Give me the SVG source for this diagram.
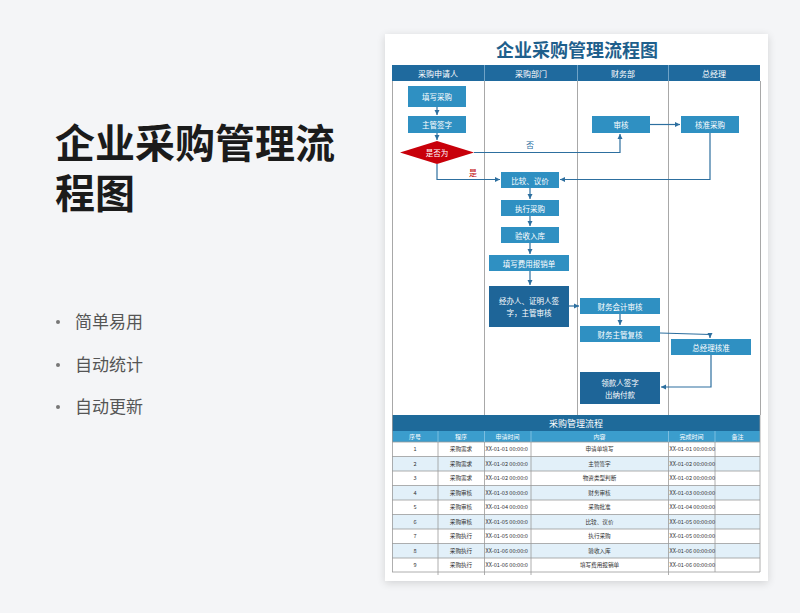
<svg xmlns="http://www.w3.org/2000/svg" width="800" height="613" viewBox="0 0 800 613">
<defs>
<style>
.cjk{font-family:"Noto Sans CJK SC","Noto Sans",sans-serif}
.bigt{font-family:"Liberation Sans","Noto Sans CJK SC",sans-serif;font-size:40px;font-weight:700;fill:#1b1b1b}
.bul{font-size:17px;fill:#555}
.nt{font-size:7.5px;fill:#fff;text-anchor:middle;dominant-baseline:central}
.hd{font-size:8px;fill:#fff;text-anchor:middle;dominant-baseline:central}
.node{fill:#2f90c2}
.dnode{fill:#1e6598}
.lane{stroke:#a8a8a8;stroke-width:1;fill:none}
.con{stroke:#2d6f9f;stroke-width:1.2;fill:none}
.td{font-size:5.6px;fill:#333;dominant-baseline:central}
.tc{text-anchor:middle}
.tl{stroke:#9a9a9a;stroke-width:0.8}
</style>
<marker id="ah" markerWidth="6" markerHeight="6" refX="5" refY="3" orient="auto" markerUnits="userSpaceOnUse">
<path d="M0,0.5 L5,3 L0,5.5 Z" fill="#2d6f9f"/>
</marker>
<filter id="sh" x="-10%" y="-10%" width="120%" height="120%">
<feGaussianBlur in="SourceAlpha" stdDeviation="4"/>
<feOffset dx="0" dy="2"/>
<feComponentTransfer><feFuncA type="linear" slope="0.15"/></feComponentTransfer>
<feMerge><feMergeNode/><feMergeNode in="SourceGraphic"/></feMerge>
</filter>
<clipPath id="cA"><rect x="484.5" y="440" width="46" height="135"/></clipPath>
</defs>
<rect x="0" y="0" width="800" height="613" fill="#f4f5f7"/>
<g id="left-text" class="cjk">
<text class="bigt" x="55" y="158">企业采购管理流</text>
<text class="bigt" x="55" y="208">程图</text>
<circle cx="58" cy="322" r="2" fill="#777"/>
<text x="75" y="328" class="bul">简单易用</text>
<circle cx="58" cy="365" r="2" fill="#777"/>
<text x="75" y="371" class="bul">自动统计</text>
<circle cx="58" cy="407" r="2" fill="#777"/>
<text x="75" y="413" class="bul">自动更新</text>
</g>
<rect x="385" y="34" width="383" height="547" fill="#fff" filter="url(#sh)"/>
<g id="card-title" class="cjk">
<text x="577" y="57" font-size="18" font-weight="700" fill="#1e5f8c" text-anchor="middle">企业采购管理流程图</text>
</g>
<g id="lanes" class="cjk">
<rect x="392" y="65" width="368" height="16" fill="#1f6a9e"/>
<line x1="484.5" y1="65" x2="484.5" y2="81" stroke="#6fa3c7" stroke-width="1"/>
<line x1="577.5" y1="65" x2="577.5" y2="81" stroke="#6fa3c7" stroke-width="1"/>
<line x1="668.5" y1="65" x2="668.5" y2="81" stroke="#6fa3c7" stroke-width="1"/>
<text x="438" y="73.5" class="hd">采购申请人</text>
<text x="531" y="73.5" class="hd">采购部门</text>
<text x="623" y="73.5" class="hd">财务部</text>
<text x="714" y="73.5" class="hd">总经理</text>
<path class="lane" d="M392.5,81 V415 M760.5,81 V415 M484.5,81 V415 M577.5,81 V415 M668.5,81 V415"/>
</g>
<g id="connectors">
<path class="con" d="M437,107 V115" marker-end="url(#ah)"/>
<path class="con" d="M437,133 V140" marker-end="url(#ah)"/>
<path class="con" d="M474,152.5 H620 V134" marker-end="url(#ah)"/>
<path class="con" d="M650,124.5 H680" marker-end="url(#ah)"/>
<path class="con" d="M710,133 V179.5 H560" marker-end="url(#ah)"/>
<path class="con" d="M437,164 V179.5 H500" marker-end="url(#ah)"/>
<path class="con" d="M530,188 V199" marker-end="url(#ah)"/>
<path class="con" d="M530,216 V226" marker-end="url(#ah)"/>
<path class="con" d="M530,243 V254" marker-end="url(#ah)"/>
<path class="con" d="M530,271 V285" marker-end="url(#ah)"/>
<path class="con" d="M569,306 H579" marker-end="url(#ah)"/>
<path class="con" d="M620,314 V325" marker-end="url(#ah)"/>
<path class="con" d="M660,333 L710,334.5 V338" marker-end="url(#ah)"/>
<path class="con" d="M711,355 V387 H661" marker-end="url(#ah)"/>
<text x="530" y="148" font-size="8" fill="#2d6f9f" text-anchor="middle" class="cjk">否</text>
<text x="473" y="176" font-size="8" fill="#c00000" text-anchor="middle" class="cjk">是</text>
</g>
<g id="n-fill" class="cjk"><rect class="node" x="408" y="86" width="58" height="21"/><text class="nt" x="437" y="96.5">填写采购</text></g>
<g id="n-sign" class="cjk"><rect class="node" x="408" y="116" width="58" height="17"/><text class="nt" x="437" y="124.5">主管签字</text></g>
<g id="n-decide" class="cjk"><polygon points="400,152.5 437,141 474,152.5 437,164" fill="#c8000a"/><text class="nt" x="437" y="152.5" font-size="7">是否为</text></g>
<g id="n-review" class="cjk"><rect class="node" x="592" y="116" width="58" height="17"/><text class="nt" x="621" y="124.5">审核</text></g>
<g id="n-approve" class="cjk"><rect class="node" x="681" y="116" width="58" height="17"/><text class="nt" x="710" y="124.5">核准采购</text></g>
<g id="n-compare" class="cjk"><rect class="node" x="501" y="172" width="58" height="16"/><text class="nt" x="530" y="180">比较、议价</text></g>
<g id="n-exec" class="cjk"><rect class="node" x="501" y="200" width="58" height="16"/><text class="nt" x="530" y="208">执行采购</text></g>
<g id="n-store" class="cjk"><rect class="node" x="501" y="227" width="58" height="16"/><text class="nt" x="530" y="235">验收入库</text></g>
<g id="n-expense" class="cjk"><rect class="node" x="489" y="255" width="80" height="16"/><text class="nt" x="529" y="263">填写费用报销单</text></g>
<g id="n-handler" class="cjk"><rect class="dnode" x="489" y="286" width="80" height="41"/><text class="nt" x="529" y="300">经办人、证明人签</text><text class="nt" x="529" y="312">字，主管审核</text></g>
<g id="n-acct" class="cjk"><rect class="node" x="580" y="298" width="80" height="16"/><text class="nt" x="620" y="306">财务会计审核</text></g>
<g id="n-fmgr" class="cjk"><rect class="node" x="580" y="326" width="80" height="16"/><text class="nt" x="620" y="334">财务主管复核</text></g>
<g id="n-gm" class="cjk"><rect class="node" x="671" y="339" width="80" height="16"/><text class="nt" x="711" y="347">总经理核准</text></g>
<g id="n-pay" class="cjk"><rect class="dnode" x="580" y="372" width="80" height="32"/><text class="nt" x="620" y="382">领款人签字</text><text class="nt" x="620" y="394">出纳付款</text></g>
<g id="table" class="cjk">
<rect x="392" y="415" width="368" height="16" fill="#1e6a9a"/>
<text x="576" y="423" font-size="9" fill="#fff" text-anchor="middle" dominant-baseline="central">采购管理流程</text>
<rect x="392" y="431" width="368" height="11" fill="#3b9dcd"/>
<rect x="392" y="456.5" width="368" height="14.5" fill="#e2f0f9"/>
<rect x="392" y="485.5" width="368" height="14.5" fill="#e2f0f9"/>
<rect x="392" y="514.5" width="368" height="14.5" fill="#e2f0f9"/>
<rect x="392" y="543.5" width="368" height="14.5" fill="#e2f0f9"/>
<g font-size="6" fill="#fff" text-anchor="middle" dominant-baseline="central">
<text x="415" y="436.5">序号</text><text x="461" y="436.5">程序</text><text x="507.5" y="436.5">申请时间</text><text x="599.5" y="436.5">内容</text><text x="691.5" y="436.5">完成时间</text><text x="737.5" y="436.5">备注</text>
</g>
<path class="tl" d="M392,442 H760 M392,456.5 H760 M392,471 H760 M392,485.5 H760 M392,500 H760 M392,514.5 H760 M392,529 H760 M392,543.5 H760 M392,558 H760 M392,572 H760"/>
<path class="tl" d="M392.5,415 V572 M760,415 V572 M438,442 V575 M484.5,442 V575 M531,442 V575 M668.5,442 V575 M715,442 V572"/>
<path d="M438,431 V442 M484.5,431 V442 M531,431 V442 M668.5,431 V442 M715,431 V442" stroke="#8cc5e3" stroke-width="0.8"/>
<g class="td">
<text class="tc" x="415" y="449.25">1</text><text class="tc" x="461" y="449.25">采购需求</text><text class="tc" x="599.5" y="449.25">申请单填写</text><text x="669.5" y="449.25">XX-01-01 00:00:00</text>
<text class="tc" x="415" y="463.75">2</text><text class="tc" x="461" y="463.75">采购需求</text><text class="tc" x="599.5" y="463.75">主管签字</text><text x="669.5" y="463.75">XX-01-02 00:00:00</text>
<text class="tc" x="415" y="478.25">3</text><text class="tc" x="461" y="478.25">采购需求</text><text class="tc" x="599.5" y="478.25">物资类型判断</text><text x="669.5" y="478.25">XX-01-02 00:00:00</text>
<text class="tc" x="415" y="492.75">4</text><text class="tc" x="461" y="492.75">采购审核</text><text class="tc" x="599.5" y="492.75">财务审核</text><text x="669.5" y="492.75">XX-01-03 00:00:00</text>
<text class="tc" x="415" y="507.25">5</text><text class="tc" x="461" y="507.25">采购审核</text><text class="tc" x="599.5" y="507.25">采购批准</text><text x="669.5" y="507.25">XX-01-04 00:00:00</text>
<text class="tc" x="415" y="521.75">6</text><text class="tc" x="461" y="521.75">采购审核</text><text class="tc" x="599.5" y="521.75">比较、议价</text><text x="669.5" y="521.75">XX-01-05 00:00:00</text>
<text class="tc" x="415" y="536.25">7</text><text class="tc" x="461" y="536.25">采购执行</text><text class="tc" x="599.5" y="536.25">执行采购</text><text x="669.5" y="536.25">XX-01-05 00:00:00</text>
<text class="tc" x="415" y="550.75">8</text><text class="tc" x="461" y="550.75">采购执行</text><text class="tc" x="599.5" y="550.75">验收入库</text><text x="669.5" y="550.75">XX-01-06 00:00:00</text>
<text class="tc" x="415" y="565">9</text><text class="tc" x="461" y="565">采购执行</text><text class="tc" x="599.5" y="565">填写费用报销单</text><text x="669.5" y="565">XX-01-06 00:00:00</text>
</g>
<g class="td" clip-path="url(#cA)">
<text x="485.5" y="449.25">XX-01-01 00:00:0</text>
<text x="485.5" y="463.75">XX-01-02 00:00:0</text>
<text x="485.5" y="478.25">XX-01-02 00:00:0</text>
<text x="485.5" y="492.75">XX-01-03 00:00:0</text>
<text x="485.5" y="507.25">XX-01-04 00:00:0</text>
<text x="485.5" y="521.75">XX-01-05 00:00:0</text>
<text x="485.5" y="536.25">XX-01-05 00:00:0</text>
<text x="485.5" y="550.75">XX-01-06 00:00:0</text>
<text x="485.5" y="565">XX-01-06 00:00:0</text>
</g>
</g>
</svg>
